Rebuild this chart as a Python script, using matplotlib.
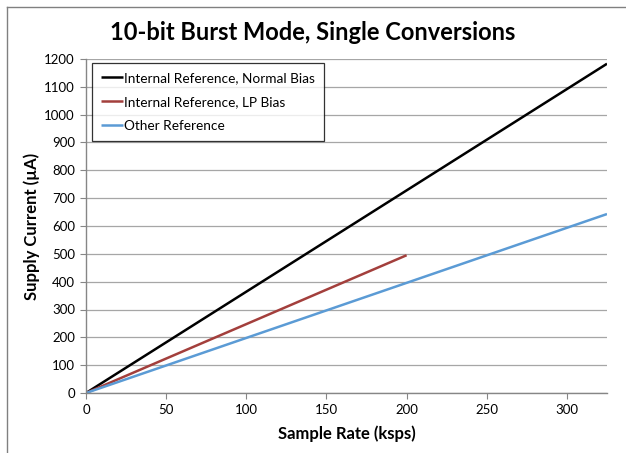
import matplotlib
matplotlib.use("Agg")
import matplotlib.pyplot as plt
from matplotlib.lines import Line2D

plt.rcParams['font.family'] = ['Lato', 'DejaVu Sans']

# ---- data ----
x_normal = [0, 325]
y_normal = [0, 1183]
x_lp = [0, 200]
y_lp = [0, 495]
x_other = [0, 325]
y_other = [0, 643]
labels = ["Internal Reference, Normal Bias", "Internal Reference, LP Bias", "Other Reference"]
colors = ["#000000", "#A33F3C", "#5B9BD5"]
x_ticks = [0, 50, 100, 150, 200, 250, 300]
y_ticks = list(range(0, 1201, 100))

W, H = 626, 453
fig = plt.figure(figsize=(W / 100, H / 100), dpi=100)
ax = fig.add_axes([86 / W, 1 - 393 / H, (607 - 86) / W, (393 - 59) / H])

# outer chart border (left/top visible)
fig.add_artist(Line2D([7 / W, 7 / W], [0, 1 - 7 / H], color="#808080", lw=1.0, transform=fig.transFigure))
fig.add_artist(Line2D([7 / W, 1], [1 - 7 / H, 1 - 7 / H], color="#808080", lw=1.0, transform=fig.transFigure))

ax.plot(x_normal, y_normal, color=colors[0], lw=1.8, label=labels[0], solid_capstyle="butt")
ax.plot(x_lp, y_lp, color=colors[1], lw=1.8, label=labels[1], solid_capstyle="butt")
ax.plot(x_other, y_other, color=colors[2], lw=1.8, label=labels[2], solid_capstyle="butt")

ax.set_xlim(0, 325)
ax.set_ylim(0, 1200)
ax.set_xticks(x_ticks)
ax.set_yticks(y_ticks)
ax.yaxis.grid(True, color="#A6A6A6", lw=0.9)
ax.set_axisbelow(True)
for s in ["top", "right"]:
    ax.spines[s].set_visible(False)
for s in ["left", "bottom"]:
    ax.spines[s].set_color("#868686")
    ax.spines[s].set_linewidth(1.0)
ax.tick_params(axis="both", direction="out", length=4, width=0.8, color="#868686",
               labelsize=9.5, pad=4)

ax.set_xlabel("Sample Rate (ksps)", fontsize=12, fontweight="bold", labelpad=7)
ax.set_ylabel("Supply Current (µA)", fontsize=12, fontweight="bold", labelpad=3)
fig.text(0.5, 1 - 32 / H, "10-bit Burst Mode, Single Conversions", ha="center", va="center",
         fontsize=17, fontweight="bold")

leg = ax.legend(loc="upper left", bbox_to_anchor=(6 / 521, 1 - 4 / 334), fontsize=9.8,
                frameon=True, fancybox=False, edgecolor="#000000", handlelength=1.6,
                handletextpad=0.1, borderpad=0.65, labelspacing=0.88, borderaxespad=0)
leg.get_frame().set_linewidth(0.9)

fig.savefig("out.png", dpi=100)
